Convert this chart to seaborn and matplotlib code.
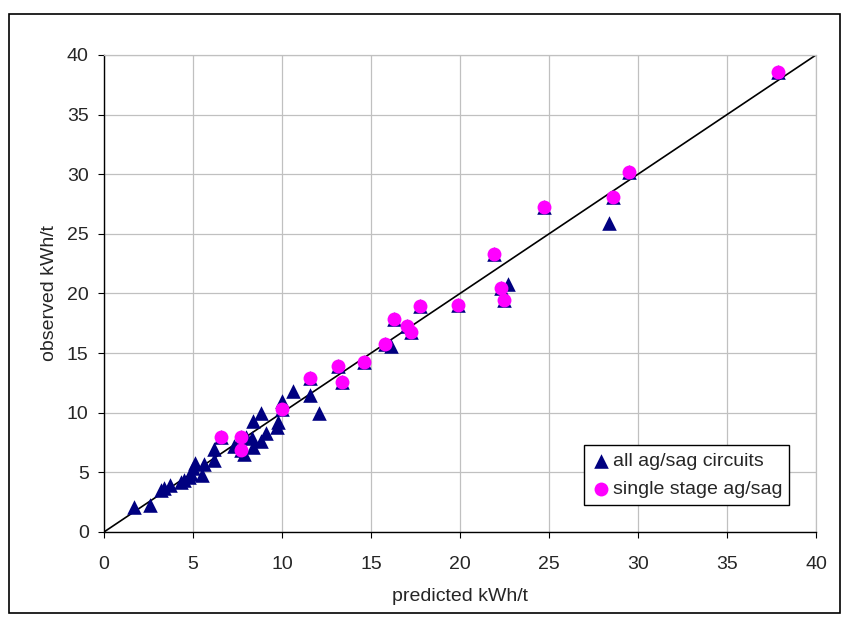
import numpy as np
import pandas as pd
import matplotlib
matplotlib.use("Agg")
import matplotlib.pyplot as plt
import seaborn as sns
from matplotlib.patches import Rectangle

# single stage ag/sag circuits (predicted vs observed kWh/t)
single_pred = [6.55, 7.7, 7.7, 10.0, 11.6, 13.15, 13.35, 14.6, 15.8, 16.3, 17.0,
               17.25, 17.75, 19.9, 21.9, 22.3, 22.5, 24.7, 28.6, 29.5, 37.85]
single_obs = [8.0, 8.0, 6.9, 10.35, 12.9, 13.95, 12.55, 14.25, 15.75, 17.85, 17.3,
              16.8, 18.95, 19.05, 23.35, 20.5, 19.45, 27.25, 28.05, 30.15, 38.6]

# remaining ag/sag circuits (not single stage)
other_pred = [1.7, 2.6, 3.2, 3.4, 3.7, 4.3, 4.5, 4.8, 4.9, 5.0, 5.1, 5.5, 5.6, 6.2, 6.2,
              7.3, 7.85, 8.0, 8.3, 8.4, 8.4, 8.8, 8.8, 9.1, 9.7, 9.8, 10.0, 10.6, 11.6,
              12.1, 16.1, 22.7, 28.4]
other_obs = [2.1, 2.3, 3.5, 3.7, 3.9, 4.2, 4.4, 4.6, 4.9, 5.4, 5.8, 4.8, 5.7, 6.0, 7.0,
             7.2, 6.5, 8.0, 7.9, 9.3, 7.1, 7.6, 10.0, 8.3, 8.8, 9.2, 11.0, 11.8, 11.5,
             10.0, 15.6, 20.8, 25.9]

ticks = [0, 5, 10, 15, 20, 25, 30, 35, 40]

all_df = pd.DataFrame({"pred": other_pred + single_pred,
                       "obs": other_obs + single_obs})
single_df = pd.DataFrame({"pred": single_pred, "obs": single_obs})

sns.set_style("white")
plt.rcParams['font.family'] = ['Liberation Sans', 'DejaVu Sans']

fig = plt.figure(figsize=(8.46, 6.22), dpi=100)
ax = fig.add_axes([0.1229, 0.1447, 0.8416, 0.7669])

# 1:1 line
ax.plot([0, 40], [0, 40], color="black", lw=1.2, zorder=2)

sns.scatterplot(data=all_df, x="pred", y="obs", marker="^", s=110, color="#000080",
                linewidth=0, ax=ax, zorder=3, label="all ag/sag circuits")
sns.scatterplot(data=single_df, x="pred", y="obs", marker="o", s=100, color="#FF00FF",
                linewidth=0, ax=ax, zorder=4, label="single stage ag/sag")

ax.set_xlim(0, 40)
ax.set_ylim(0, 40)
ax.set_xticks(ticks)
ax.set_yticks(ticks)
ax.grid(True, color="#c0c0c0", lw=0.9)
ax.set_axisbelow(True)
for s in ["top", "right"]:
    ax.spines[s].set_color("#c0c0c0")
    ax.spines[s].set_linewidth(0.9)
for s in ["left", "bottom"]:
    ax.spines[s].set_color("black")
    ax.spines[s].set_linewidth(1.0)
ax.tick_params(axis="both", direction="out", length=4, width=0.8, color="black",
               labelsize=14, bottom=True, left=True)
ax.tick_params(axis="x", pad=13)
ax.tick_params(axis="y", pad=7)

ax.set_xlabel("predicted kWh/t", fontsize=14, labelpad=11)
ax.set_ylabel("observed kWh/t", fontsize=14, labelpad=6)

leg = ax.legend(loc="lower right", bbox_to_anchor=(0.962, 0.057), borderaxespad=0,
                fontsize=14, frameon=True, fancybox=False, framealpha=1,
                borderpad=0.35, labelspacing=0.55, handletextpad=0.1,
                handlelength=1.0)
leg.get_frame().set_edgecolor("black")
leg.get_frame().set_linewidth(1.0)

# outer chart border
fig.patches.append(Rectangle((0.0105, 0.0145), 0.982, 0.963, transform=fig.transFigure,
                             fill=False, edgecolor="black", lw=1.2))

fig.savefig("out.png", dpi=100)
